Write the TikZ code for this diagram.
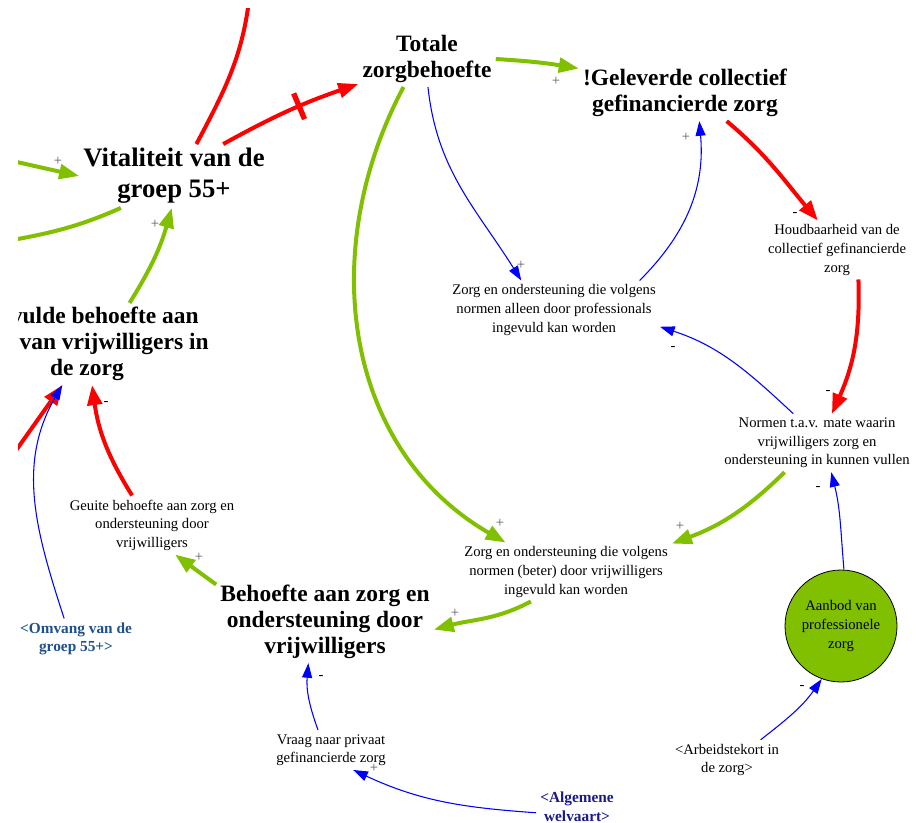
\documentclass[tikz,border=0pt]{standalone}
\usepackage{fontspec}
\setmainfont{Liberation Serif}
\usepackage{tikz}
\usetikzlibrary{arrows.meta}
\usetikzlibrary{shapes}

\definecolor{vgreen}{RGB}{128,192,0}
\definecolor{omblue}{RGB}{30,80,140}
\definecolor{awblue}{RGB}{25,25,140}
\definecolor{sgngray}{RGB}{90,90,90}

\begin{document}
\begin{tikzpicture}[x=0.75pt,y=0.75pt,
    varbig/.style={font=\bfseries\fontsize{17.6}{19.5}\selectfont, align=center, inner sep=3pt},
    varhuge/.style={font=\bfseries\fontsize{20}{23.2}\selectfont, align=center, inner sep=3pt},
    varsmall/.style={font=\fontsize{11}{13.9}\selectfont, align=center, inner sep=3pt},
    shadowvar/.style={font=\bfseries\fontsize{11.5}{13.9}\selectfont, align=center, inner sep=3pt},
    posarrow/.style={draw=vgreen, line width=3pt, -{Triangle[length=15pt,width=11pt]}},
    negarrow/.style={draw=red, line width=3pt, -{Triangle[length=15pt,width=11pt]}},
    infarrow/.style={draw=blue, line width=0.8pt, -{Triangle[length=11pt,width=7.5pt]}},
    sgnp/.style={font=\fontsize{11}{12}\selectfont, text=sgngray, inner sep=0pt},
    sgnm/.style={font=\fontsize{11}{12}\selectfont, inner sep=0pt},
    delaybar/.style={fill=red, inner sep=0pt, minimum width=4pt, minimum height=21pt}]
  \useasboundingbox (0,0) rectangle (923,-823);
  \clip (18,-9) rectangle (923,-823);

  % variables
  \node[varhuge] (vit) at (174,-176) {Vitaliteit van de\\groep 55+};
  \node[varbig] (tot) at (427,-59) {Totale\\zorgbehoefte};
  \node[varbig] (gel) at (685,-93) {!Geleverde collectief\\gefinancierde zorg};
  \node[varbig] (onv) at (87,-344) {Vervulde behoefte aan\\inzet van vrijwilligers in\\de zorg};
  \node[varbig] (bh) at (325,-622) {Behoefte aan zorg en\\ondersteuning door\\vrijwilligers};
  \node[varsmall] (zp) at (554,-310) {Zorg en ondersteuning die volgens\\normen alleen door professionals\\ingevuld kan worden};
  \node[varsmall] (hb) at (837,-250) {Houdbaarheid van de\\collectief gefinancierde\\zorg};
  \node[varsmall] (nm) at (817,-443) {Normen t.a.v. mate waarin\\vrijwilligers zorg en\\ondersteuning in kunnen vullen};
  \node[varsmall] (zv) at (566,-572) {Zorg en ondersteuning die volgens\\normen (beter) door vrijwilligers\\ingevuld kan worden};
  \node[varsmall] (ge) at (152,-525) {Geuite behoefte aan zorg en\\ondersteuning door\\vrijwilligers};
  \node[varsmall] (vr) at (331,-750) {Vraag naar privaat\\gefinancierde zorg};
  \node[varsmall] (ak) at (727,-760) {<Arbeidstekort in\\de zorg>};
  \node[shadowvar, text=omblue] (om) at (76,-639) {<Omvang van de\\groep 55+>};
  \node[shadowvar, text=awblue] (aw) at (577,-807) {<Algemene\\welvaart>};
  \node[circle, draw=black, line width=0.6pt, fill=vgreen, minimum size=84pt, inner sep=0pt,
        font=\fontsize{11}{13.9}\selectfont, align=center] (ab) at (841,-626) {Aanbod van\\professionele\\zorg};

  % loose ends leaving the picture
  \coordinate (outtop) at (250,8);
  \coordinate (outleft) at (-10,-244);
  \coordinate (inleft) at (-10,-156);
  \coordinate (inlow) at (-5,-480);

  % links
  \draw[negarrow] (vit.33) to[bend left=5] node[delaybar, sloped, pos=0.58] (dly) {} (tot.-160);
  \draw[negarrow, -] (vit.55) to[out=62, in=-96] (outtop);
  \draw[posarrow] (inleft) -- (vit.west);
  \draw[posarrow, -] (vit.-149) to[out=-156, in=10] (outleft);
  \draw[posarrow] (onv.44) to[bend right=8] (vit.-94);
  \draw[posarrow] (tot.east) to[bend left=3] (gel.167);
  \draw[posarrow] (tot.-130) to[out=-118, in=150, looseness=1.02] (zv.154);
  \draw[infarrow] (tot.-88) to[out=-84, in=122] (zp.138);
  \draw[infarrow] (zp.19) to[out=45, in=-85] (gel.-63);
  \draw[negarrow] (gel.-34) to[out=-40, in=130] (hb.123);
  \draw[negarrow] (hb.-54) to[out=-88, in=66] (nm.63);
  \draw[infarrow] (nm.129) to[out=137, in=-18] (zp.-9);
  \draw[posarrow] (nm.-138) to[bend left=12] (zv.15);
  \draw[infarrow] (ab.87) to[out=95, in=-76] (nm.-64);
  \draw[infarrow] (ak.31) to[out=38, in=-125] (ab.-110);
  \draw[posarrow] (zv.-140) to[out=-152, in=15] (bh.-4);
  \draw[posarrow] (bh.161) -- (ge.-52);
  \draw[negarrow] (ge.124) to[bend left=12] (onv.-83);
  \draw[negarrow] (inlow) -- (onv.-121);
  \draw[infarrow] (om.120) to[out=108, in=-120] (onv.-121);
  \draw[infarrow] (vr.123) to[out=110, in=-95] (bh.-112);
  \draw[infarrow] (aw.-172) to[out=176, in=-25] (vr.-42);

  % polarities
  \node[sgnp] (s1) at (58,-161) {+};
  \node[sgnp] (s2) at (155,-224) {+};
  \node[sgnp] (s3) at (556,-81) {+};
  \node[sgnp] (s4) at (521,-265) {+};
  \node[sgnp] (s5) at (686,-137) {+};
  \node[sgnm] (s6) at (795,-215) {-};
  \node[sgnm] (s7) at (828,-392) {-};
  \node[sgnm] (s8) at (673,-348) {-};
  \node[sgnp] (s9) at (680,-526) {+};
  \node[sgnm] (s10) at (818,-488) {-};
  \node[sgnm] (s11) at (802,-687) {-};
  \node[sgnp] (s12) at (500,-523) {+};
  \node[sgnp] (s13) at (455,-613) {+};
  \node[sgnp] (s14) at (199,-557) {+};
  \node[sgnm] (s15) at (106,-403) {-};
  \node[sgnm] (s16) at (321,-677) {-};
  \node[sgnp] (s17) at (374,-768) {+};
\end{tikzpicture}
\end{document}
